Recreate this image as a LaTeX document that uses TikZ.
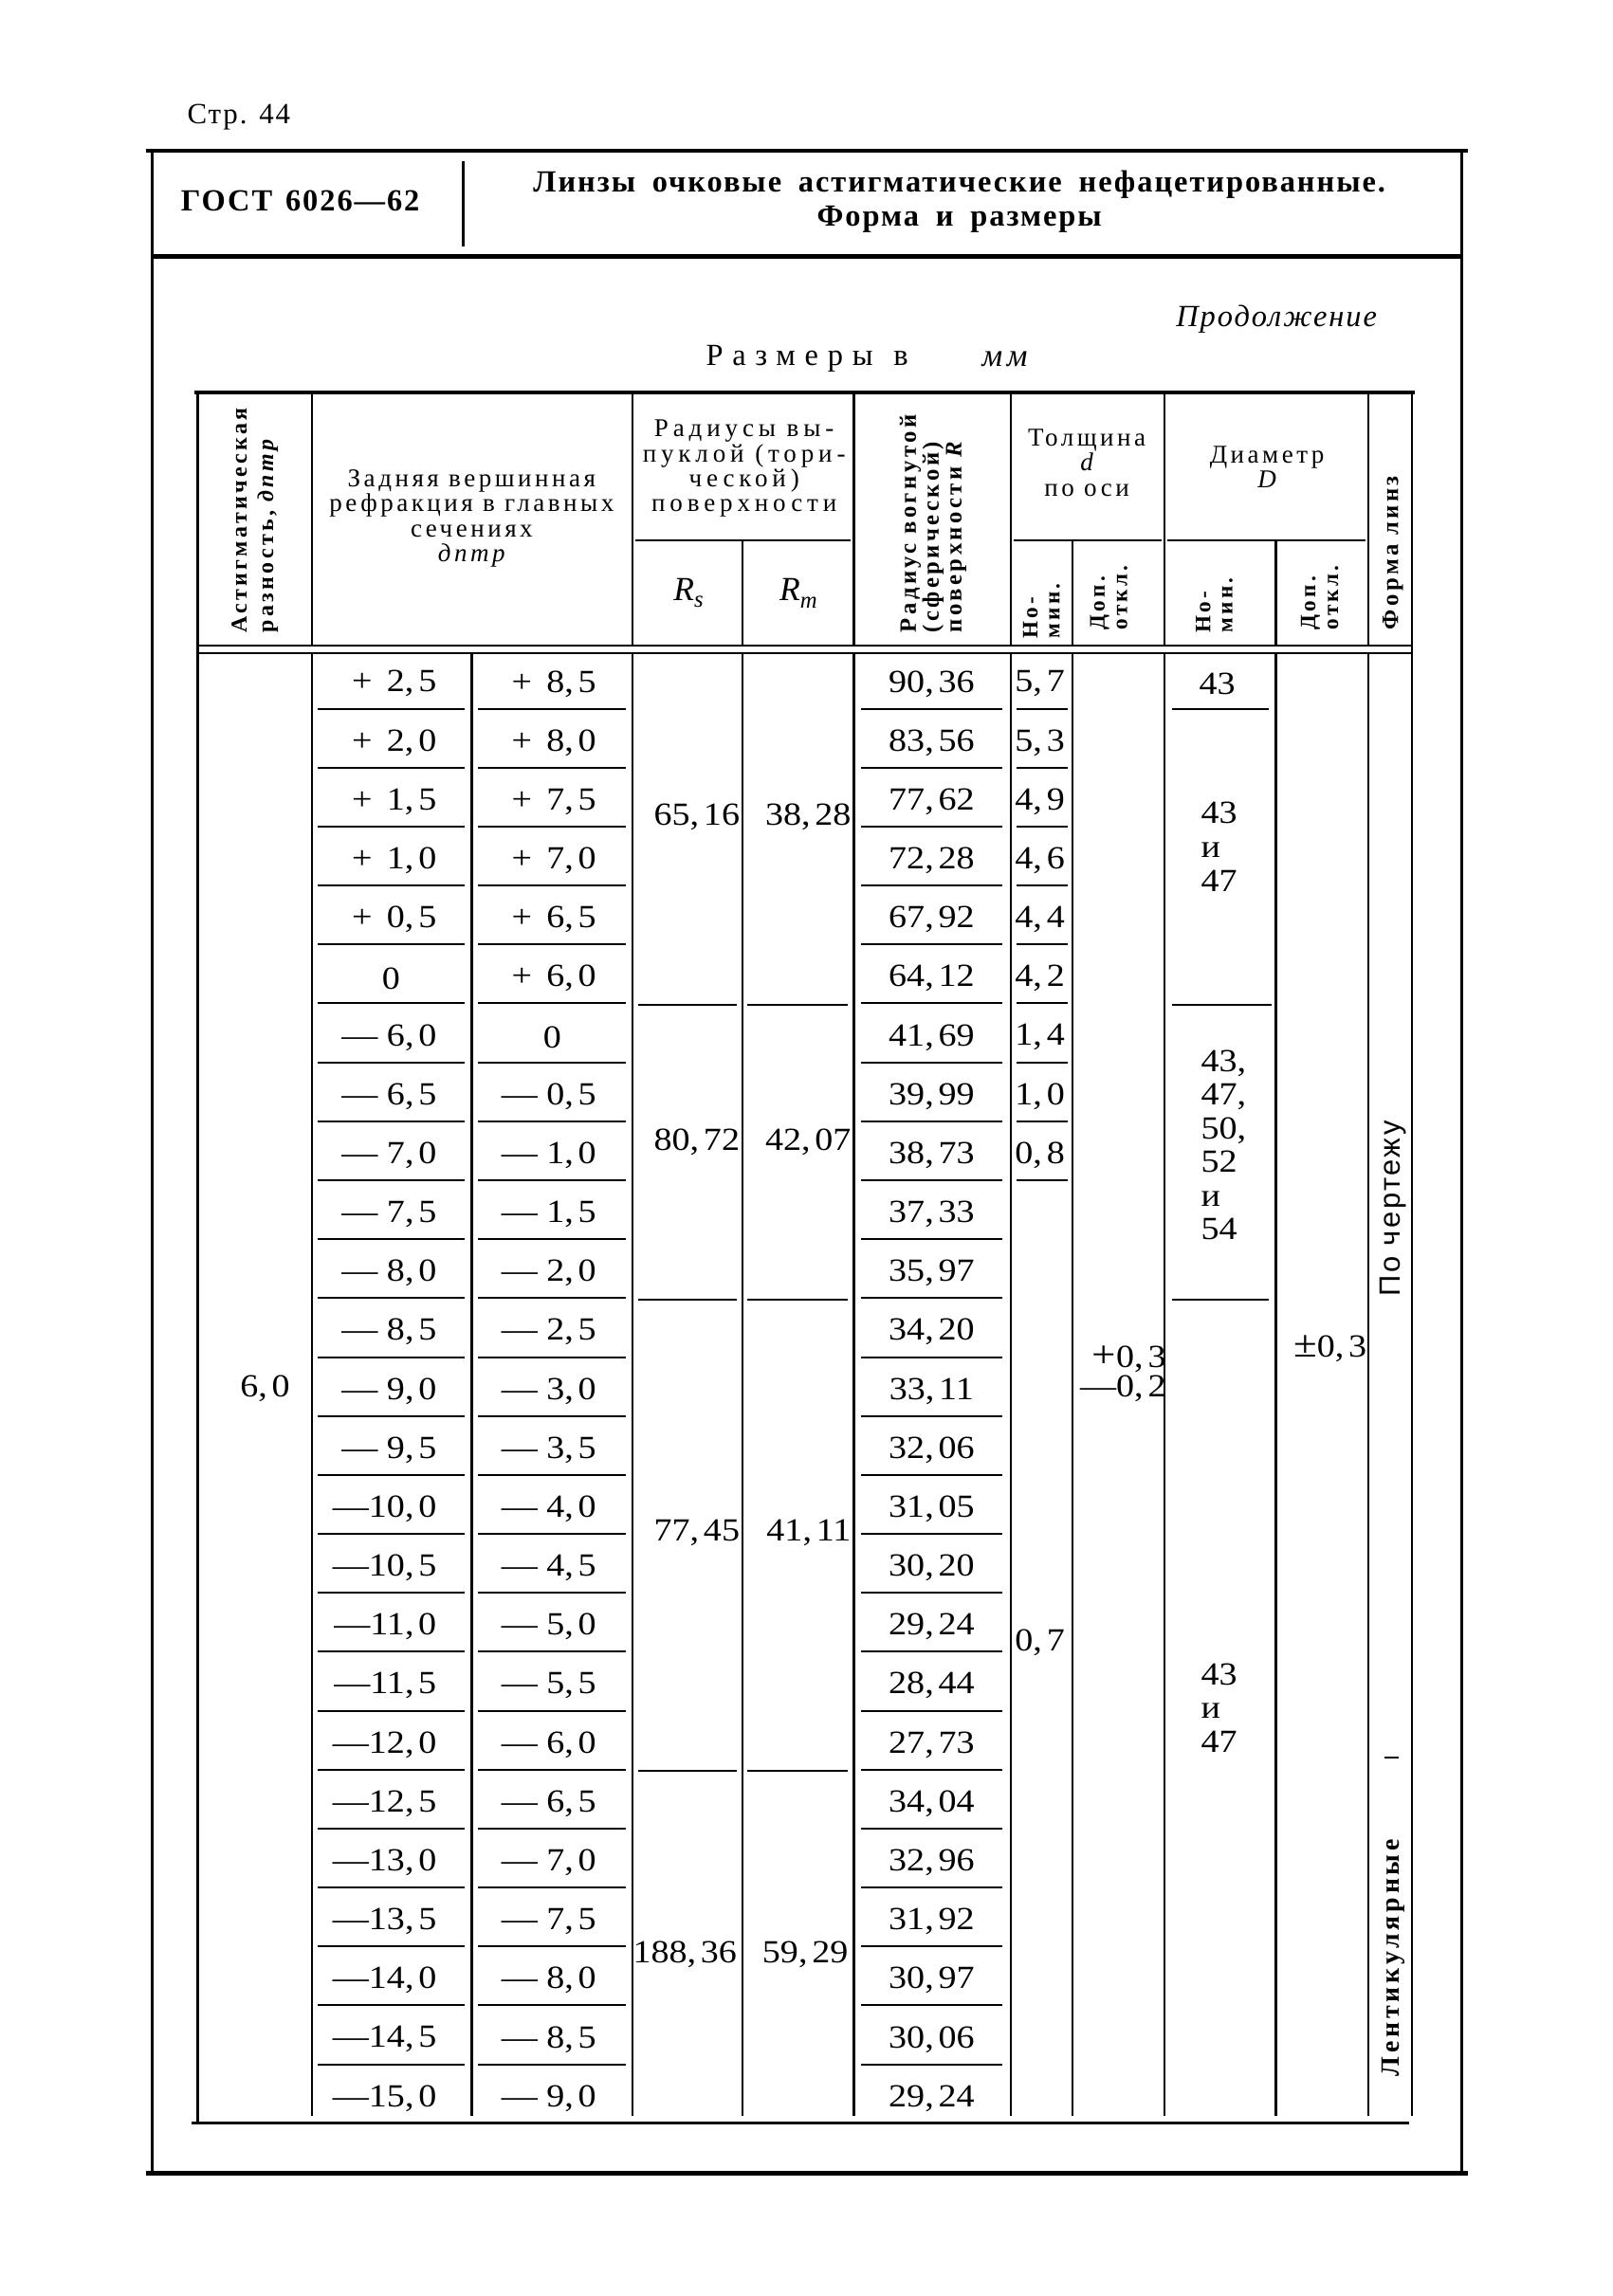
\documentclass[tikz,border=0pt]{standalone}
\usepackage{fontspec}
\setmainfont{Liberation Serif}
\newfontfamily\numf[FakeStretch=1.12]{Liberation Serif}
\newfontfamily\spbf[LetterSpace=14]{Liberation Serif}
\newfontfamily\hdrf[LetterSpace=13]{Liberation Serif}
\newfontfamily\hdrw[LetterSpace=18]{Liberation Serif}
\newfontfamily\sansf[LetterSpace=8]{Liberation Sans}
\newfontfamily\widef[LetterSpace=30]{Liberation Serif}
\newfontfamily\midf[LetterSpace=14]{Liberation Serif}
\newfontfamily\titlef[LetterSpace=6]{Liberation Serif}
\newcommand\dc{,\kern0.14em}
\newcommand\gp{\hspace{0.45em}}
\begin{document}
\begin{tikzpicture}[x=1pt,y=-1pt,
  every node/.style={inner sep=0pt,outer sep=0pt},
  heavy/.style={line width=3pt},
  frame/.style={line width=2.4pt},
  rule/.style={line width=1.5pt},
  uline/.style={line width=1.3pt},
  num/.style={font=\numf\fontsize{22}{22}\selectfont},
  numstack/.style={font=\numf\fontsize{22}{23}\selectfont,align=left},
  rot/.style={rotate=90,anchor=west,align=left,font=\spbf\bfseries\fontsize{15}{16}\selectfont},
  hdr/.style={align=center,font=\hdrf\fontsize{17.5}{17}\selectfont}
]
\useasboundingbox (0,0) rectangle (1101,1568);
% ---------- page header ----------
\node[anchor=west,font=\titlef\fontsize{20}{20}\selectfont] (page) at (128,80) {Стр. 44};
\draw[frame] (104,103) -- (104,1485);
\draw[frame] (998,103) -- (998,1485);
\draw[heavy] (100,103) -- (1002,103);
\draw[heavy] (104,175) -- (998,175);
\draw[line width=1.8pt] (316,110) -- (316,168);
\draw[line width=3.5pt] (100,1484) -- (1002,1484);
\node[font=\titlef\bfseries\fontsize{21}{22}\selectfont] (gost) at (205,137) {ГОСТ\hspace{9pt}6026—62};
\node[font=\titlef\bfseries\fontsize{21}{22}\selectfont] (t1) at (655,126) {Линзы\hspace{5pt} очковые\hspace{5pt} астигматические\hspace{5pt} нефацетированные.};
\node[font=\titlef\bfseries\fontsize{21}{22}\selectfont] (t2) at (655,150) {Форма\hspace{5pt} и\hspace{5pt} размеры};
\node[anchor=east,font=\titlef\itshape\fontsize{21}{22}\selectfont] (cont) at (940,218) {Продолжение};
\node[anchor=west,font=\widef\fontsize{21}{22}\selectfont] (raz) at (482,245) {Размеры};
\node[font=\fontsize{21}{22}\selectfont] (vv) at (615,245) {в};
\node[font=\midf\itshape\fontsize{22}{22}\selectfont] (mm) at (686,245) {мм};
% ---------- table frame ----------
\draw[heavy] (133,268) -- (966,268);
\draw[rule] (135,268) -- (135,1450);
\draw[rule] (964,268) -- (964,1445);
\draw[uline] (135,441) -- (964,441);
\draw[uline] (135,446) -- (964,446);
\draw[line width=2pt] (131,1450) -- (962,1450);
\foreach \xx in {213,432,583,690,795,934} {
  \draw[rule] (\xx,268) -- (\xx,441);
  \draw[rule] (\xx,446) -- (\xx,1445);
}
\foreach \xx in {507,732,871} {
  \draw[rule] (\xx,369) -- (\xx,441);
  \draw[rule] (\xx,446) -- (\xx,1445);
}
\draw[rule] (322,446) -- (322,1445);
\draw[uline] (434,369) -- (581,369) (692,369) -- (793,369) (797,369) -- (932,369);
% ---------- header texts ----------
\node[rot,font=\spbf\bfseries\fontsize{15.5}{18}\selectfont] (h1) at (174,432) {Астигматическая\\разность, {\itshape дптр}};
\node[hdr] (h2) at (322,354) {Задняя вершинная\\рефракция в главных\\сечениях\\{\itshape дптр}};
\node[hdr,font=\hdrw\fontsize{17.5}{17}\selectfont] (h3) at (508,320) {Радиусы вы-\\пуклой (тори-\\ческой)\\поверхности};
\node[font=\itshape\fontsize{23}{23}\selectfont] (rs) at (470,405) {R\raisebox{-5pt}{\fontsize{16}{16}\selectfont s}};
\node[font=\itshape\fontsize{23}{23}\selectfont] (rm) at (545,405) {R\raisebox{-5pt}{\fontsize{16}{16}\selectfont m}};
\node[rot,font=\spbf\bfseries\fontsize{16}{15.5}\selectfont] (h5) at (637,432) {Радиус вогнутой\\(сферической)\\поверхности {\itshape R}};
\node[hdr] (h6) at (742,316) {Толщина\\{\itshape d}\\по оси};
\node[hdr] (h8) at (865,319) {Диаметр\\{\itshape D}};
\node[rot,font=\spbf\bfseries\fontsize{15}{15}\selectfont] (h6a) at (711,436) {Но-\\мин.};
\node[rot,font=\spbf\bfseries\fontsize{15}{15.5}\selectfont] (h7) at (757,430) {Доп.\\откл.};
\node[rot,font=\spbf\bfseries\fontsize{15}{15}\selectfont] (h8a) at (829,432) {Но-\\мин.};
\node[rot,font=\spbf\bfseries\fontsize{15}{15.5}\selectfont] (h9) at (901,430) {Доп.\\откл.};
\node[rot,font=\spbf\bfseries\fontsize{16}{16}\selectfont] (h10) at (951,430) {Форма линз};
% ---------- data rows ----------
\foreach \k/\a/\b/\r in {
1/{+\gp 2\dc5}/{+\gp 8\dc5}/{90\dc36},
2/{+\gp 2\dc0}/{+\gp 8\dc0}/{83\dc56},
3/{+\gp 1\dc5}/{+\gp 7\dc5}/{77\dc62},
4/{+\gp 1\dc0}/{+\gp 7\dc0}/{72\dc28},
5/{+\gp 0\dc5}/{+\gp 6\dc5}/{67\dc92},
6/{}/{+\gp 6\dc0}/{64\dc12},
7/{— 6\dc0}/{}/{41\dc69},
8/{— 6\dc5}/{— 0\dc5}/{39\dc99},
9/{— 7\dc0}/{— 1\dc0}/{38\dc73},
10/{— 7\dc5}/{— 1\dc5}/{37\dc33},
11/{— 8\dc0}/{— 2\dc0}/{35\dc97},
12/{— 8\dc5}/{— 2\dc5}/{34\dc20},
13/{— 9\dc0}/{— 3\dc0}/{33\dc11},
14/{— 9\dc5}/{— 3\dc5}/{32\dc06},
15/{—10\dc0}/{— 4\dc0}/{31\dc05},
16/{—10\dc5}/{— 4\dc5}/{30\dc20},
17/{—11\dc0}/{— 5\dc0}/{29\dc24},
18/{—11\dc5}/{— 5\dc5}/{28\dc44},
19/{—12\dc0}/{— 6\dc0}/{27\dc73},
20/{—12\dc5}/{— 6\dc5}/{34\dc04},
21/{—13\dc0}/{— 7\dc0}/{32\dc96},
22/{—13\dc5}/{— 7\dc5}/{31\dc92},
23/{—14\dc0}/{— 8\dc0}/{30\dc97},
24/{—14\dc5}/{— 8\dc5}/{30\dc06},
25/{—15\dc0}/{— 9\dc0}/{29\dc24}} {
  \pgfmathsetmacro\yy{467+(\k-1)*40.25}
  \node[num,anchor=east] (a\k) at (298,\yy) {\a};
  \node[num,anchor=east] (b\k) at (407,\yy) {\b};
  \node[num] (r\k) at (636,\yy) {\r};
}
\node[num] (a6z) at (267,668.25) {0};
\node[num] (b7z) at (377,708.5) {0};
\foreach \k in {1,...,24} {
  \pgfmathsetmacro\yl{467+(\k-1)*40.25+17}
  \draw[uline] (217,\yl) -- (317,\yl) (326,\yl) -- (427,\yl) (588,\yl) -- (684,\yl);
}
% thickness nominal
\foreach \k/\v in {1/{5\dc7},2/{5\dc3},3/{4\dc9},4/{4\dc6},5/{4\dc4},6/{4\dc2},7/{1\dc4},8/{1\dc0},9/{0\dc8}} {
  \pgfmathsetmacro\yy{467+(\k-1)*40.25}
  \node[num,anchor=west] (t\k) at (693,\yy) {\v};
  \draw[uline] (694,\yy+17) -- (729,\yy+17);
}
\node[num,anchor=west] (t10) at (693,1122) {0\dc7};
\node[num,anchor=east,align=right,font=\numf\fontsize{22}{20}\selectfont] (tol1) at (796,938) {{\fontsize{26}{20}\selectfont +}0\dc3\\—0\dc2};
% radii groups
\node[num,anchor=east] (rs1) at (505,558) {65\dc16};
\node[num,anchor=east] (rm1) at (581,558) {38\dc28};
\node[num,anchor=east] (rs2) at (505,780) {80\dc72};
\node[num,anchor=east] (rm2) at (581,780) {42\dc07};
\node[num,anchor=east] (rs3) at (505,1047) {77\dc45};
\node[num,anchor=east] (rm3) at (581,1047) {41\dc11};
\node[num,anchor=east] (rs4) at (503,1335) {188\dc36};
\node[num,anchor=east] (rm4) at (579,1335) {59\dc29};
\foreach \yl in {686.25,887.5,1209.5} {
  \draw[uline] (436,\yl) -- (503,\yl) (510,\yl) -- (579,\yl);
}
% diameter
\node[num] (d1) at (831,467) {43};
\draw[uline] (800,484) -- (866,484);
\node[numstack,anchor=north west] (d2) at (820,548) {43\\и\\47};
\draw[uline] (800,686.25) -- (868,686.25);
\node[numstack,anchor=north west] (d3) at (820,717) {43,\\47,\\50,\\52\\и\\54};
\draw[uline] (800,887.5) -- (866,887.5);
\node[numstack,anchor=north west] (d4) at (820,1136) {43\\и\\47};
\node[num,anchor=east] (dtol) at (933,921) {{\fontsize{26}{22}\selectfont ±}0\dc3};
% first column and lens form
\node[num] (ast) at (181,948) {6\dc0};
\node[rotate=90,anchor=west,font=\sansf\fontsize{20}{20}\selectfont] (f1) at (951,885) {По чертежу};
\draw[uline] (945,1200) -- (955,1200);
\node[rot,font=\spbf\bfseries\fontsize{18}{18}\selectfont] (f2) at (951,1418) {Лентикулярные};
\end{tikzpicture}
\end{document}
